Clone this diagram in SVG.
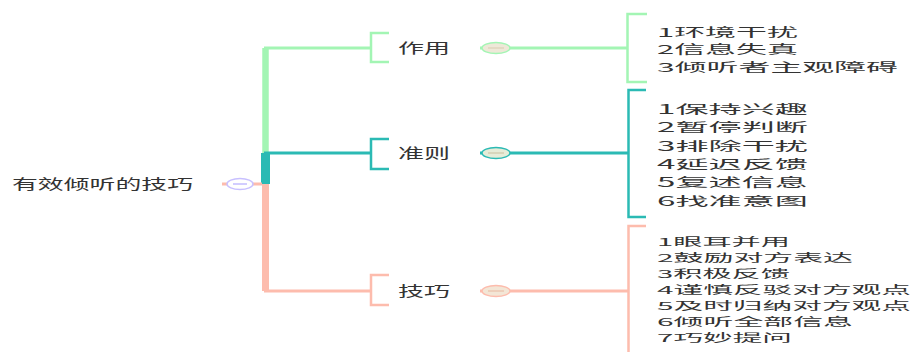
<svg xmlns="http://www.w3.org/2000/svg" width="914" height="352" viewBox="0 0 914 352">
<style>
text{font-family:"Noto Sans CJK SC","Noto Sans",sans-serif;font-size:14px;fill:#333}
.sub1 text{font-size:12px}
.sub2 text{font-size:12.5px}
.sub3 text{font-size:11px}
.g{stroke:#a3f5b4;fill:none}
.t{stroke:#2bbab4;fill:none}
.s{stroke:#fdbcad;fill:none}
.br{stroke-width:2.5}
.ln{stroke-width:3}
</style>
<rect width="914" height="352" fill="#fff"/>
<g id="connectors">
  <path class="g" d="M265.5 184 V48 H370" stroke-width="3"/>
  <path class="g" d="M265.5 153 V48" stroke-width="6.5"/>
  <path class="s" d="M265.5 184 V291 H370" stroke-width="3"/>
  <path class="s" d="M265.5 184 V291" stroke-width="7"/>
  <path class="t" d="M265.5 184 V153 H370" stroke-width="3"/>
  <path class="t" d="M265.5 184 V153" stroke-width="9"/>
  <line x1="222" y1="184" x2="262" y2="184" class="s" stroke-width="3"/>
  <path class="g ln" d="M480 48 H627"/>
  <path class="t ln" d="M480 153 H628"/>
  <path class="s ln" d="M480 291 H628"/>
</g>
<g id="root">
  <text x="12" y="189" textLength="181" lengthAdjust="spacingAndGlyphs">有效倾听的技巧</text>
  <ellipse cx="240" cy="184" rx="13" ry="5.5" fill="#fff" stroke="#c8c0ff" stroke-width="1.5"/>
  <line x1="233" y1="184" x2="247" y2="184" stroke="#b5acff" stroke-width="1.2"/>
</g>
<g id="n-zuoyong">
  <path class="g br" d="M389 33 H371 V62 H389"/>
  <text x="398" y="53" textLength="52" lengthAdjust="spacingAndGlyphs">作用</text>
  <ellipse cx="496" cy="48" rx="14" ry="5.5" fill="#eee8d8" stroke="#a3f5b4" stroke-width="1.5"/>
  <line x1="488" y1="48" x2="504" y2="48" stroke="#d8ccb0" stroke-width="1"/>
</g>
<g id="n-zhunze">
  <path class="t br" d="M389 139 H371 V169 H389"/>
  <text x="398" y="158" textLength="52" lengthAdjust="spacingAndGlyphs">准则</text>
  <ellipse cx="496" cy="153" rx="14" ry="5.5" fill="#e6ecd8" stroke="#2bbab4" stroke-width="1.5"/>
  <line x1="488" y1="153" x2="504" y2="153" stroke="#c8c0a0" stroke-width="1"/>
</g>
<g id="n-jiqiao">
  <path class="s br" d="M389 275 H371 V305 H389"/>
  <text x="398" y="296" textLength="52" lengthAdjust="spacingAndGlyphs">技巧</text>
  <ellipse cx="496" cy="291" rx="14" ry="5.5" fill="#f3e6d6" stroke="#fdbcad" stroke-width="1.5"/>
  <line x1="488" y1="291" x2="504" y2="291" stroke="#e8b8a0" stroke-width="1"/>
</g>
<g id="l-zuoyong" class="sub1">
  <path class="g br" d="M647 14 H627.5 V82 H647"/>
  <text x="657" y="36.5" textLength="141" lengthAdjust="spacingAndGlyphs">1环境干扰</text>
  <text x="657" y="54" textLength="141" lengthAdjust="spacingAndGlyphs">2信息失真</text>
  <text x="657" y="71.5" textLength="241" lengthAdjust="spacingAndGlyphs">3倾听者主观障碍</text>
</g>
<g id="l-zhunze" class="sub2">
  <path class="t br" d="M646 90 H628.5 V217 H646"/>
  <text x="657" y="113.5" textLength="151" lengthAdjust="spacingAndGlyphs">1保持兴趣</text>
  <text x="657" y="132" textLength="151" lengthAdjust="spacingAndGlyphs">2暂停判断</text>
  <text x="657" y="150.5" textLength="151" lengthAdjust="spacingAndGlyphs">3排除干扰</text>
  <text x="657" y="168.5" textLength="151" lengthAdjust="spacingAndGlyphs">4延迟反馈</text>
  <text x="657" y="187" textLength="151" lengthAdjust="spacingAndGlyphs">5复述信息</text>
  <text x="657" y="205.5" textLength="151" lengthAdjust="spacingAndGlyphs">6找准意图</text>
</g>
<g id="l-jiqiao" class="sub3">
  <path class="s br" d="M646 226 H628.5 V352"/>
  <text x="657" y="246" textLength="133" lengthAdjust="spacingAndGlyphs">1眼耳并用</text>
  <text x="657" y="262" textLength="196" lengthAdjust="spacingAndGlyphs">2鼓励对方表达</text>
  <text x="657" y="278" textLength="133" lengthAdjust="spacingAndGlyphs">3积极反馈</text>
  <text x="657" y="294" textLength="254" lengthAdjust="spacingAndGlyphs">4谨慎反驳对方观点</text>
  <text x="657" y="310" textLength="254" lengthAdjust="spacingAndGlyphs">5及时归纳对方观点</text>
  <text x="657" y="326" textLength="196" lengthAdjust="spacingAndGlyphs">6倾听全部信息</text>
  <text x="657" y="342" textLength="135" lengthAdjust="spacingAndGlyphs">7巧妙提问</text>
</g>
</svg>
